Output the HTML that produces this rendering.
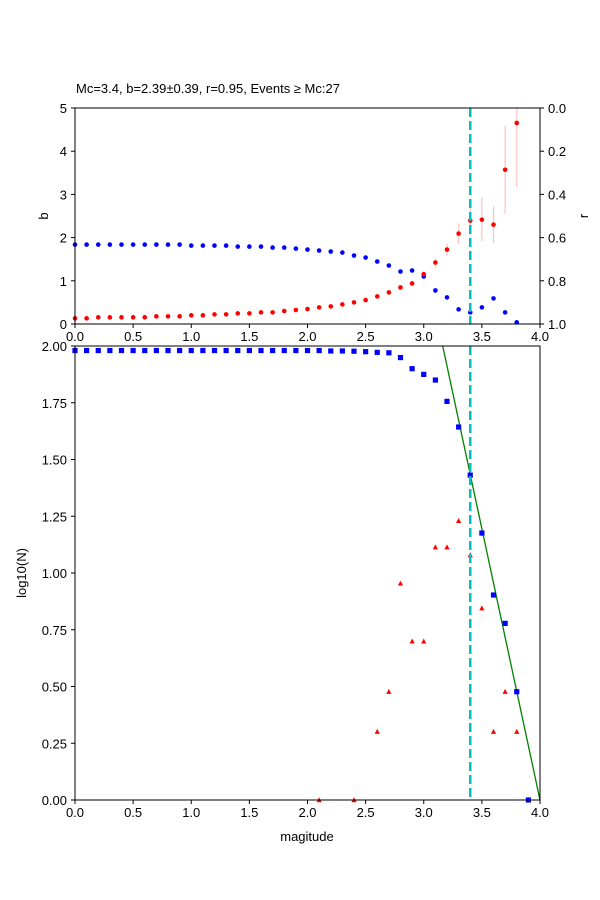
<!DOCTYPE html><html><head><style>body{margin:0;background:#fff}svg{display:block;font-family:"Liberation Sans","DejaVu Sans",sans-serif}</style></head><body>
<svg id="s" width="600" height="900" xmlns="http://www.w3.org/2000/svg"></svg>
<script>
const s=document.getElementById('s');let h='';
const X=v=>75+v*116.25;
const TY=b=>324-b*43.2, RY=r=>108+r*216, BY=v=>800-v*227;
h+=`<text x="76" y="93" font-size="13">Mc=3.4, b=2.39±0.39, r=0.95, Events ≥ Mc:27</text>`;
const eb=[[3.1,535,565],[3.2,492,530],[3.3,432,494],[3.4,370,470],[3.5,355,486],[3.6,381,491],[3.7,138,404],[3.8,85,322]];
const zy=z=>108+(z-85)*216/650;
eb.forEach(e=>h+=`<line x1="${X(e[0])}" x2="${X(e[0])}" y1="${zy(e[1])}" y2="${zy(e[2])}" stroke="#fbc4c4" stroke-width="1.2"/>`);
const red=[718,718,715,715,715,715,715,712,712,712,709,709,706,706,703,703,700,700,696,693,690,685,682,676,670,663,652,640,625,613,585,550,511,463,424,421,436,271,130];
const blue=[496,496,496,496,496,496,496,496,496,496,499,499,499,499,502,502,502,505,505,508,511,514,517,520,529,535,547,559,577,574,592,634,655,691,700,685,658,700,730];
blue.forEach((z,i)=>h+=`<circle cx="${X(i/10)}" cy="${zy(z)}" r="2.3" fill="#0000ff"/>`);
red.forEach((z,i)=>h+=`<circle cx="${X(i/10)}" cy="${zy(z)}" r="2.3" fill="#ff0000"/>`);
h+=`<defs><clipPath id="c"><rect x="72" y="343" width="471" height="460"/></clipPath></defs>`;
h+=`<line x1="${X(4-2/2.39)}" y1="346" x2="540" y2="800" stroke="green" stroke-width="1.3"/>`;
const sq=[];for(let i=0;i<=21;i++)sq.push(1.98);
sq.push(1.978,1.978,1.977,1.975,1.972,1.97,1.949,1.90,1.875,1.85,1.756,1.643,1.431,1.176,0.903,0.778,0.477,0);
sq.forEach((v,i)=>h+=`<rect x="${X(i/10)-2.6}" y="${BY(v)-2.6}" width="5.2" height="5.2" fill="#0000ff" clip-path="url(#c)"/>`);
const tri=[[2.1,0],[2.4,0],[2.6,.301],[2.7,.477],[2.8,.954],[2.9,.699],[3.0,.699],[3.1,1.114],[3.2,1.114],[3.3,1.23],[3.4,1.079],[3.5,.845],[3.6,.301],[3.7,.477],[3.8,.301]];
tri.forEach(t=>{const x=X(t[0]),y=BY(t[1]);h+=`<polygon points="${x-2.6},${y+2.2} ${x+2.6},${y+2.2} ${x},${y-2.8}" fill="#ff0000" clip-path="url(#c)"/>`});
[[108,324],[346,800]].forEach(a=>h+=`<line x1="470.25" x2="470.25" y1="${a[0]}" y2="${a[1]}" stroke="#00bfbf" stroke-width="2.5" stroke-dasharray="9,4"/>`);
h+=`<rect x="75" y="108" width="465" height="216" fill="none" stroke="#000" stroke-width="1"/>`;
h+=`<rect x="75" y="346" width="465" height="454" fill="none" stroke="#000" stroke-width="1"/>`;
for(let i=0;i<=8;i++){const v=i/2,x=X(v);
 [324,800].forEach(y=>{h+=`<line x1="${x}" x2="${x}" y1="${y}" y2="${y+4}" stroke="#000"/><text x="${x}" y="${y+17}" font-size="13" text-anchor="middle">${v.toFixed(1)}</text>`});}
for(let i=0;i<=5;i++){const y=TY(i);h+=`<line x1="71" x2="75" y1="${y}" y2="${y}" stroke="#000"/><text x="67" y="${y+5}" font-size="13" text-anchor="end">${i}</text>`;}
for(let i=0;i<=5;i++){const r=i/5,y=RY(r);h+=`<line x1="540" x2="544" y1="${y}" y2="${y}" stroke="#000"/><text x="548" y="${y+5}" font-size="13">${r.toFixed(1)}</text>`;}
for(let i=0;i<=8;i++){const v=i/4,y=BY(v);h+=`<line x1="71" x2="75" y1="${y}" y2="${y}" stroke="#000"/><text x="67" y="${y+5}" font-size="13" text-anchor="end">${v.toFixed(2)}</text>`;}
h+=`<text transform="translate(48,216) rotate(-90)" font-size="13" text-anchor="middle">b</text>`;
h+=`<text transform="translate(588,216) rotate(-90)" font-size="13" text-anchor="middle">r</text>`;
h+=`<text transform="translate(26,573) rotate(-90)" font-size="13" text-anchor="middle">log10(N)</text>`;
h+=`<text x="307" y="841" font-size="13" text-anchor="middle">magitude</text>`;
s.innerHTML=h;
</script></body></html>
